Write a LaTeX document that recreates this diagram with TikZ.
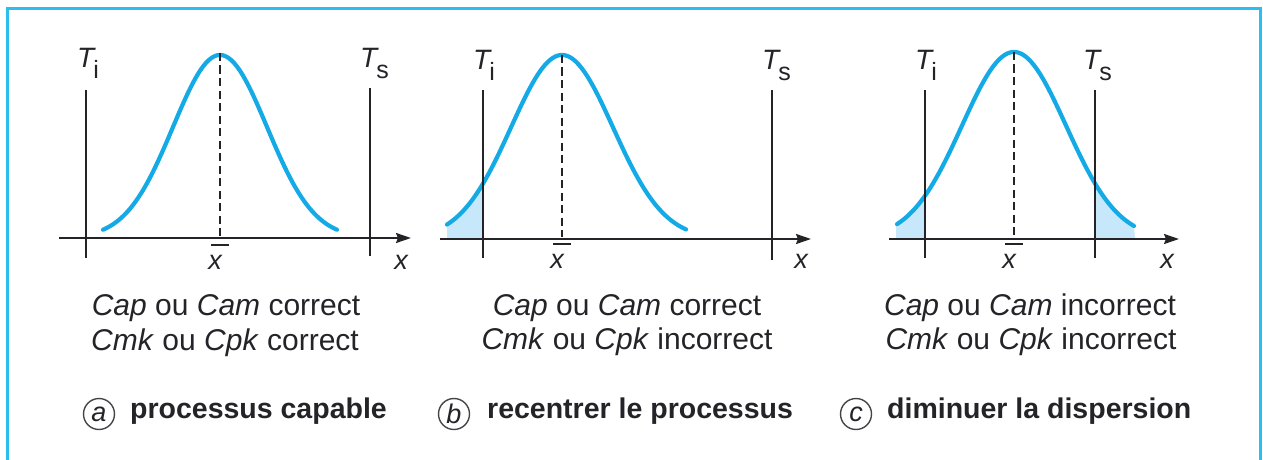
\documentclass[tikz,border=0pt]{standalone}
\usepackage{fontspec}
\setmainfont{Liberation Sans}
\usetikzlibrary{arrows.meta}
\definecolor{curvecol}{RGB}{20,170,230}
\definecolor{fillcol}{RGB}{198,232,250}
\definecolor{framecol}{RGB}{45,190,240}
\definecolor{ink}{RGB}{35,35,40}
\tikzset{
  axisline/.style={ink, line width=2pt, -{Stealth[length=15pt,width=10pt,inset=2pt]}},
  tolline/.style={ink, line width=2pt},
  meanline/.style={ink, line width=2.2pt, dash pattern=on 8pt off 4.5pt},
  barline/.style={ink, line width=2pt},
  gauss/.style={curvecol, line width=4.2pt, line cap=round},
  tail/.style={fill=fillcol},
  lbl/.style={inner sep=0pt, text=ink, anchor=base, font=\fontsize{30}{35}\selectfont},
  captxt/.style={inner sep=0pt, text=ink, anchor=base west, font=\bfseries\fontsize{28.5}{34}\selectfont},
  circ/.style={circle, draw=ink!85, line width=1.4pt, minimum size=31pt, inner sep=0pt, text=ink, font=\itshape\fontsize{27}{27}\selectfont},
  tlab/.style={inner sep=0pt, text=ink, anchor=base west, font=\fontsize{28}{28}\selectfont},
  xlab/.style={inner sep=0pt, text=ink, font=\itshape\fontsize{27}{27}\selectfont},
  framebox/.style={framecol, line width=3pt}
}
\newcommand{\tsub}[2]{\textit{#1}\kern-2.5pt\raisebox{-11pt}{\fontsize{25}{25}\selectfont #2}}
\begin{document}
\begin{tikzpicture}[x=1pt,y=-1pt]
\useasboundingbox (0,0) rectangle (1263,460);
% frame
\coordinate (f1) at (7,470); \coordinate (f2) at (7,9);
\coordinate (f3) at (1260,9); \coordinate (f4) at (1260,470);
\draw[framebox] (f1) -- (f2) -- (f3) -- (f4);

% ===== Panel a =====
\draw[gauss] plot[domain=-117:117, samples=120] ({220+\x},{238-183*exp(-(\x*\x)/4418)});
\coordinate (a-ax0) at (59,238); \coordinate (a-ax1) at (411,238);
\draw[axisline] (a-ax0) -- (a-ax1);
\coordinate (a-ti0) at (86,90); \coordinate (a-ti1) at (86,258);
\coordinate (a-ts0) at (370,88); \coordinate (a-ts1) at (370,256);
\draw[tolline] (a-ti0) -- (a-ti1);
\draw[tolline] (a-ts0) -- (a-ts1);
\coordinate (a-m0) at (220,53); \coordinate (a-m1) at (220,236);
\draw[meanline] (a-m0) -- (a-m1);
\node[tlab] (a-Ti) at (77,67) {\tsub{T}{i}};
\node[tlab] (a-Ts) at (360,67) {\tsub{T}{s}};
\node[xlab] (a-xb) at (215,262) {x};
\draw[barline] ([xshift=-4pt,yshift=10pt]a-xb.north) -- ([xshift=14pt,yshift=10pt]a-xb.north);
\node[xlab] (a-x) at (401,262) {x};
\node[lbl] (a-l1) at (226,315) {\textit{Cap} ou \textit{Cam} correct};
\node[lbl] (a-l2) at (225,350) {\textit{Cmk} ou \textit{Cpk} correct};
\node[circ] (a-c) at (99,414) {a};
\node[captxt] (a-t) at (130,418) {processus capable};

% ===== Panel b =====
\fill[tail] (447,239) -- plot[domain=-115:-79, samples=30] ({562+\x},{239-184*exp(-(\x*\x)/5202)}) -- (483,239) -- cycle;
\draw[gauss] plot[domain=-115:124, samples=120] ({562+\x},{239-184*exp(-(\x*\x)/5202)});
\coordinate (b-ax0) at (440,239); \coordinate (b-ax1) at (811,239);
\draw[axisline] (b-ax0) -- (b-ax1);
\coordinate (b-ti0) at (483,90); \coordinate (b-ti1) at (483,258);
\coordinate (b-ts0) at (772,90); \coordinate (b-ts1) at (772,260);
\draw[tolline] (b-ti0) -- (b-ti1);
\draw[tolline] (b-ts0) -- (b-ts1);
\coordinate (b-m0) at (562,55); \coordinate (b-m1) at (562,237);
\draw[meanline] (b-m0) -- (b-m1);
\node[tlab] (b-Ti) at (473,70) {\tsub{T}{i}};
\node[tlab] (b-Ts) at (762,70) {\tsub{T}{s}};
\node[xlab] (b-xb) at (557,261) {x};
\draw[barline] ([xshift=-4pt,yshift=10pt]b-xb.north) -- ([xshift=14pt,yshift=10pt]b-xb.north);
\node[xlab] (b-x) at (801,261) {x};
\node[lbl] (b-l1) at (627,315) {\textit{Cap} ou \textit{Cam} correct};
\node[lbl] (b-l2) at (627,349) {\textit{Cmk} ou \textit{Cpk} incorrect};
\node[circ] (b-c) at (454,414) {b};
\node[captxt] (b-t) at (487,418) {recentrer le processus};

% ===== Panel c =====
\fill[tail] (896,239) -- plot[domain=-118:-89, samples=30] ({1014+\x},{239-187*exp(-(\x*\x)/5408)}) -- (925,239) -- cycle;
\fill[tail] (1095,239) -- plot[domain=81:120, samples=30] ({1014+\x},{239-187*exp(-(\x*\x)/5408)}) -- (1135,239) -- cycle;
\draw[gauss] plot[domain=-117:120, samples=120] ({1014+\x},{239-187*exp(-(\x*\x)/5408)});
\coordinate (c-ax0) at (889,239); \coordinate (c-ax1) at (1179,239);
\draw[axisline] (c-ax0) -- (c-ax1);
\coordinate (c-ti0) at (925,90); \coordinate (c-ti1) at (925,258);
\coordinate (c-ts0) at (1095,90); \coordinate (c-ts1) at (1095,258);
\draw[tolline] (c-ti0) -- (c-ti1);
\draw[tolline] (c-ts0) -- (c-ts1);
\coordinate (c-m0) at (1014,52); \coordinate (c-m1) at (1014,237);
\draw[meanline] (c-m0) -- (c-m1);
\node[tlab] (c-Ti) at (915,70) {\tsub{T}{i}};
\node[tlab] (c-Ts) at (1083,70) {\tsub{T}{s}};
\node[xlab] (c-xb) at (1009,261) {x};
\draw[barline] ([xshift=-4pt,yshift=10pt]c-xb.north) -- ([xshift=14pt,yshift=10pt]c-xb.north);
\node[xlab] (c-x) at (1167,261) {x};
\node[lbl] (c-l1) at (1030,315) {\textit{Cap} ou \textit{Cam} incorrect};
\node[lbl] (c-l2) at (1031,349) {\textit{Cmk} ou \textit{Cpk} incorrect};
\node[circ] (c-c) at (856,414) {c};
\node[captxt] (c-t) at (887,418) {diminuer la dispersion};
\end{tikzpicture}
\end{document}
